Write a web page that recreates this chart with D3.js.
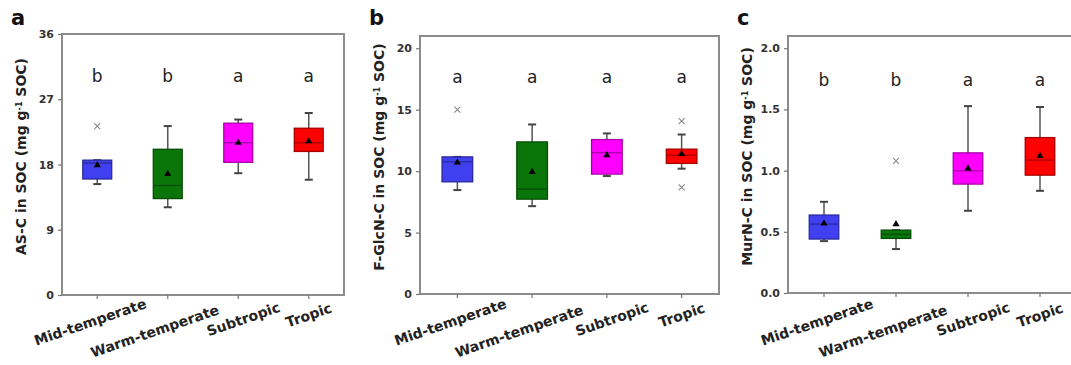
<!DOCTYPE html>
<html>
<head>
<meta charset="utf-8">
<script src="https://d3js.org/d3.v7.min.js"></script>
<style>
  body { margin: 0; background: #fff; }
  svg text { font-family: "DejaVu Sans", sans-serif; }
</style>
</head>
<body>
<div id="chart"></div>
<script>
  // categories shared by all three panels
  const groups = ["Mid-temperate", "Warm-temperate", "Subtropic", "Tropic"];
  const fills = ["#4040f0", "#0a760a", "#ff00ff", "#ff0000"];

  // panel a: AS-C
  const asLow = [15.3, 12.1, 16.8, 15.9];
  const asQ1 = [16.0, 13.3, 18.3, 19.8];
  const asMed = [18.2, 15.1, 21.0, 21.0];
  const asQ3 = [18.6, 20.1, 23.7, 23.0];
  const asHigh = [18.6, 23.3, 24.2, 25.1];
  const asMean = [17.9, 16.7, 21.0, 21.2];
  const asOut = [[23.3], [], [], []];
  const asLetters = ["b", "b", "a", "a"];
  const asTicks = [0, 9, 18, 27, 36];

  // panel b: F-GlcN-C
  const gLow = [8.46, 7.15, 9.6, 10.2];
  const gQ1 = [9.13, 7.72, 9.76, 10.63];
  const gMed = [10.76, 8.54, 11.5, 11.3];
  const gQ3 = [11.16, 12.38, 12.57, 11.79];
  const gHigh = [11.16, 13.8, 13.07, 12.98];
  const gMean = [10.7, 9.94, 11.3, 11.4];
  const gOut = [[15.0], [], [], [14.07, 8.67]];
  const gLetters = ["a", "a", "a", "a"];
  const gTicks = [0, 5, 10, 15, 20];

  // panel c: MurN-C
  const mLow = [0.424, 0.359, 0.672, 0.835];
  const mQ1 = [0.441, 0.446, 0.89, 0.963];
  const mMed = [0.563, 0.479, 0.998, 1.086];
  const mQ3 = [0.637, 0.514, 1.145, 1.27];
  const mHigh = [0.745, 0.514, 1.527, 1.52];
  const mMean = [0.569, 0.563, 1.018, 1.12];
  const mOut = [[], [1.08], [], []];
  const mLetters = ["b", "b", "a", "a"];
  const mTicks = [0, 0.5, 1.0, 1.5, 2.0];

  const panels = [
    { tag: "a", title: "AS-C in SOC (mg g", low: asLow, q1: asQ1, med: asMed, q3: asQ3, high: asHigh,
      mean: asMean, out: asOut, letters: asLetters, letterAt: 29.4, ticks: asTicks, yMax: 36, fmt: d3.format("d"),
      left: 62, right: 344, top: 34, bottom: 295 },
    { tag: "b", title: "F-GlcN-C in SOC (mg g", low: gLow, q1: gQ1, med: gMed, q3: gQ3, high: gHigh,
      mean: gMean, out: gOut, letters: gLetters, letterAt: 17.2, ticks: gTicks, yMax: 21, fmt: d3.format("d"),
      left: 420, right: 719, top: 36, bottom: 294 },
    { tag: "c", title: "MurN-C in SOC (mg g", low: mLow, q1: mQ1, med: mMed, q3: mQ3, high: mHigh,
      mean: mMean, out: mOut, letters: mLetters, letterAt: 1.69, ticks: mTicks, yMax: 2.1, fmt: d3.format(".1f"),
      left: 788, right: 1076, top: 36, bottom: 293 }
  ];

  // small nudges for the slanted category labels
  const labelShift = [[-7, 4], [-13, 13], [5, 1], [0, -3]];

  const svg = d3.select("#chart").append("svg")
    .attr("width", 1071)
    .attr("height", 365);

  panels.forEach(p => {
    const x = d3.scaleBand().domain(groups).range([p.left, p.right]).padding(0);
    const y = d3.scaleLinear().domain([0, p.yMax]).range([p.bottom, p.top]);
    const g = svg.append("g");
    const bw = x.bandwidth() * 0.41;
    const cx = i => x(groups[i]) + x.bandwidth() / 2;

    // frame
    g.append("rect")
      .attr("x", p.left).attr("y", p.top)
      .attr("width", p.right - p.left).attr("height", p.bottom - p.top)
      .attr("fill", "none").attr("stroke", "#8c8c8c").attr("stroke-width", 2);

    const yAxis = g.append("g")
      .attr("transform", `translate(${p.left},0)`)
      .call(d3.axisLeft(y).tickValues(p.ticks).tickFormat(p.fmt).tickSize(4).tickPadding(4));
    yAxis.select(".domain").remove();
    yAxis.selectAll("line").attr("stroke", "#777").attr("stroke-width", 1.2);
    yAxis.selectAll("text").attr("fill", "#333").style("font-size", "11px").style("font-weight", "bold");

    const xAxis = g.append("g")
      .attr("transform", `translate(0,${p.bottom})`)
      .call(d3.axisBottom(x).tickSize(4).tickFormat(""));
    xAxis.select(".domain").remove();
    xAxis.selectAll("line").attr("stroke", "#777").attr("stroke-width", 1.2);

    groups.forEach((name, i) => {
      g.append("text")
        .attr("transform", `translate(${cx(i) + labelShift[i][0]},${318 + labelShift[i][1]}) rotate(-19)`)
        .attr("text-anchor", "middle")
        .attr("dominant-baseline", "central")
        .attr("fill", "#222")
        .style("font-size", "14px").style("font-weight", "bold")
        .text(name);
    });

    // y title
    const yt = g.append("text")
      .attr("transform", `translate(${p.left - 36},${(p.top + p.bottom) / 2 - 8}) rotate(-90)`)
      .attr("text-anchor", "middle")
      .attr("fill", "#222")
      .style("font-size", "14px").style("font-weight", "bold");
    yt.append("tspan").text(p.title);
    yt.append("tspan").attr("baseline-shift", "super").style("font-size", "8px").text("-1");
    yt.append("tspan").text(" SOC)");

    // panel tag
    g.append("text")
      .attr("x", p.left - 51).attr("y", 25)
      .attr("fill", "#111")
      .style("font-size", "21px").style("font-weight", "bold")
      .text(p.tag);

    groups.forEach((name, i) => {
      const c = cx(i);
      const stroke = d3.color(fills[i]).darker(1.2);
      // whiskers
      g.append("line").attr("x1", c).attr("x2", c)
        .attr("y1", y(p.low[i])).attr("y2", y(p.high[i]))
        .attr("stroke", "#555").attr("stroke-width", 1.5);
      [p.low[i], p.high[i]].forEach(v => {
        g.append("line").attr("x1", c - 4).attr("x2", c + 4)
          .attr("y1", y(v)).attr("y2", y(v))
          .attr("stroke", "#444").attr("stroke-width", 2);
      });
      // box
      g.append("rect")
        .attr("x", c - bw / 2).attr("width", bw)
        .attr("y", y(p.q3[i])).attr("height", y(p.q1[i]) - y(p.q3[i]))
        .attr("fill", fills[i]).attr("stroke", stroke).attr("stroke-width", 1.3);
      g.append("line").attr("x1", c - bw / 2).attr("x2", c + bw / 2)
        .attr("y1", y(p.med[i])).attr("y2", y(p.med[i]))
        .attr("stroke", stroke).attr("stroke-width", 1.3);
      // mean
      g.append("path")
        .attr("d", d3.symbol(d3.symbolTriangle, 22)())
        .attr("transform", `translate(${c},${y(p.mean[i])})`)
        .attr("fill", "#000");
      // outliers as small x marks
      p.out[i].forEach(v => {
        g.append("path")
          .attr("d", "M-3,-3L3,3M-3,3L3,-3")
          .attr("transform", `translate(${c},${y(v)})`)
          .attr("fill", "none").attr("stroke", "#8a8a8a").attr("stroke-width", 1.1);
      });
      // significance letter
      g.append("text")
        .attr("x", c).attr("y", y(p.letterAt))
        .attr("text-anchor", "middle")
        .attr("fill", "#222")
        .style("font-size", "17px")
        .text(p.letters[i]);
    });
  });
</script>
</body>
</html>
